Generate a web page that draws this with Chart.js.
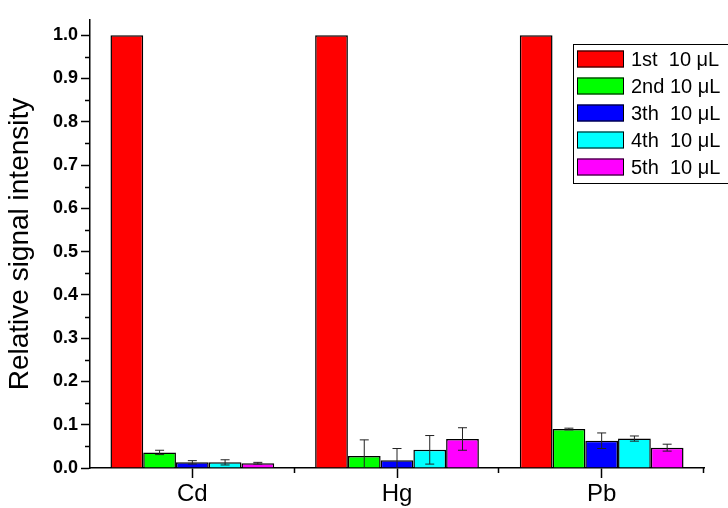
<!DOCTYPE html>
<html>
<head>
<meta charset="utf-8">
<script src="https://cdn.jsdelivr.net/npm/chart.js@4.4.0/dist/chart.umd.min.js"></script>
<style>
  html, body { margin: 0; padding: 0; background: #fff; overflow: hidden; }
</style>
</head>
<body>
<canvas id="chart" width="728" height="508"></canvas>
<script>
// Data
const categories = ['Cd', 'Hg', 'Pb'];
const seriesLabels = ['1st  10 \u03bcL', '2nd 10 \u03bcL', '3th  10 \u03bcL', '4th  10 \u03bcL', '5th  10 \u03bcL'];
const seriesColors = ['#FF0000', '#00FF00', '#0000FF', '#00FFFF', '#FF00FF'];

const first  = [1.0, 1.0, 1.0];
const second = [0.036, 0.028, 0.090];
const third  = [0.013, 0.018, 0.063];
const fourth = [0.013, 0.042, 0.068];
const fifth  = [0.011, 0.067, 0.047];

const firstErr  = [0, 0, 0];
const secondErr = [0.005, 0.037, 0.002];
const thirdErr  = [0.004, 0.027, 0.018];
const fourthErr = [0.006, 0.033, 0.006];
const fifthErr  = [0.002, 0.026, 0.008];

const yTicks = [0.0, 0.1, 0.2, 0.3, 0.4, 0.5, 0.6, 0.7, 0.8, 0.9, 1.0];
const yMinorTicks = [0.05, 0.15, 0.25, 0.35, 0.45, 0.55, 0.65, 0.75, 0.85, 0.95];
const xMinorTicks = [1.5, 2.5, 3.5];

const series = [first, second, third, fourth, fifth];
const errors = [firstErr, secondErr, thirdErr, fourthErr, fifthErr];

Chart.defaults.font.family = "'Liberation Sans', Arial, sans-serif";
Chart.defaults.color = '#000';

// error bars drawn from the y scale
const errorBarPlugin = {
    id: 'errorBars',
    afterDatasetsDraw(chart) {
        const { ctx } = chart;
        const y = chart.scales.y;
        ctx.save();
        ctx.strokeStyle = '#222';
        ctx.lineWidth = 1;
        chart.data.datasets.forEach((ds, i) => {
            const meta = chart.getDatasetMeta(i);
            meta.data.forEach((bar, j) => {
                const err = ds.errors[j];
                if (!err) return;
                const v = ds.data[j].y;
                const top = y.getPixelForValue(v + err);
                const low = v - err;
                const bottom = y.getPixelForValue(Math.max(low, 0));
                const cap = 4.5;
                ctx.beginPath();
                ctx.moveTo(bar.x, top);
                ctx.lineTo(bar.x, bottom);
                ctx.moveTo(bar.x - cap, top);
                ctx.lineTo(bar.x + cap, top);
                if (low > 0) {
                    ctx.moveTo(bar.x - cap, bottom);
                    ctx.lineTo(bar.x + cap, bottom);
                }
                ctx.stroke();
            });
        });
        ctx.restore();
    }
};

// minor ticks on both axes
const minorTickPlugin = {
    id: 'minorTicks',
    afterDraw(chart) {
        const { ctx, chartArea } = chart;
        const x = chart.scales.x, y = chart.scales.y;
        ctx.save();
        ctx.strokeStyle = '#000';
        ctx.lineWidth = 1.5;
        ctx.beginPath();
        yMinorTicks.forEach(v => {
            const py = Math.round(y.getPixelForValue(v)) + 0.5;
            ctx.moveTo(chartArea.left - 5, py);
            ctx.lineTo(chartArea.left, py);
        });
        xMinorTicks.forEach(v => {
            const px = Math.round(x.getPixelForValue(v)) - 0.5;
            ctx.moveTo(px, chartArea.bottom);
            ctx.lineTo(px, chartArea.bottom + 5);
        });
        ctx.stroke();
        ctx.restore();
    }
};

// Origin-style legend inside the plot (runs past the right edge like the original)
const boxLegendPlugin = {
    id: 'boxLegend',
    afterDraw(chart) {
        const { ctx, chartArea } = chart;
        const left = chartArea.left + 483;
        const top = chartArea.top + 24;
        const rowH = 27;
        ctx.save();
        ctx.fillStyle = '#fff';
        ctx.strokeStyle = '#000';
        ctx.lineWidth = 1;
        const n = chart.data.datasets.length;
        ctx.fillRect(left, top, 200, n * rowH + 4);
        ctx.strokeRect(left + 0.5, top + 0.5, 200, n * rowH + 4);
        ctx.font = "20px 'Liberation Sans', Arial, sans-serif";
        ctx.textBaseline = 'middle';
        chart.data.datasets.forEach((ds, i) => {
            const cy = top + 15 + i * rowH;
            ctx.fillStyle = ds.backgroundColor;
            ctx.fillRect(left + 4, cy - 8.5, 47, 17);
            ctx.strokeRect(left + 4.5, cy - 8, 46, 16);
            ctx.fillStyle = '#000';
            ctx.fillText(ds.label, left + 58, cy + 1);
        });
        ctx.restore();
    }
};

const datasets = series.map((vals, i) => ({
    label: seriesLabels[i],
    data: vals.map((v, j) => ({ x: j + 1, y: v })),
    errors: errors[i],
    backgroundColor: seriesColors[i],
    borderColor: '#000',
    borderWidth: 1.5,
    categoryPercentage: 0.8,
    barPercentage: 1.0
}));

new Chart(document.getElementById('chart'), {
    type: 'bar',
    data: { datasets: datasets },
    plugins: [errorBarPlugin, minorTickPlugin, boxLegendPlugin],
    options: {
        responsive: false,
        animation: false,
        devicePixelRatio: 1,
        layout: { padding: { top: 20, right: 24, bottom: 0, left: 0 } },
        plugins: {
            legend: { display: false },
            tooltip: { enabled: false }
        },
        scales: {
            x: {
                type: 'linear',
                min: 0.5,
                max: 3.5,
                offset: false,
                afterBuildTicks: axis => { axis.ticks = categories.map((c, i) => ({ value: i + 1 })); },
                afterFit: axis => { axis.height = 40; },
                ticks: {
                    callback: v => categories[v - 1],
                    font: { size: 24 },
                    color: '#000',
                    padding: 2,
                    autoSkip: false,
                    maxRotation: 0
                },
                grid: { offset: false, drawOnChartArea: false, tickLength: 10, color: '#000', tickWidth: 1.5 },
                border: { display: true, color: '#000', width: 1.5 }
            },
            y: {
                min: 0,
                max: 1.035,
                afterBuildTicks: axis => { axis.ticks = yTicks.map(v => ({ value: v })); },
                afterFit: axis => { axis.width = 90; },
                ticks: {
                    callback: v => v.toFixed(1),
                    font: { size: 18, weight: 'bold' },
                    color: '#000',
                    padding: 3
                },
                grid: { drawOnChartArea: false, tickLength: 9, color: '#000', tickWidth: 1.5 },
                border: { display: true, color: '#000', width: 1.5 },
                title: {
                    display: true,
                    text: 'Relative signal intensity',
                    font: { size: 28 },
                    color: '#000',
                    padding: { top: 3, bottom: 3 }
                }
            }
        }
    }
});
</script>
</body>
</html>
